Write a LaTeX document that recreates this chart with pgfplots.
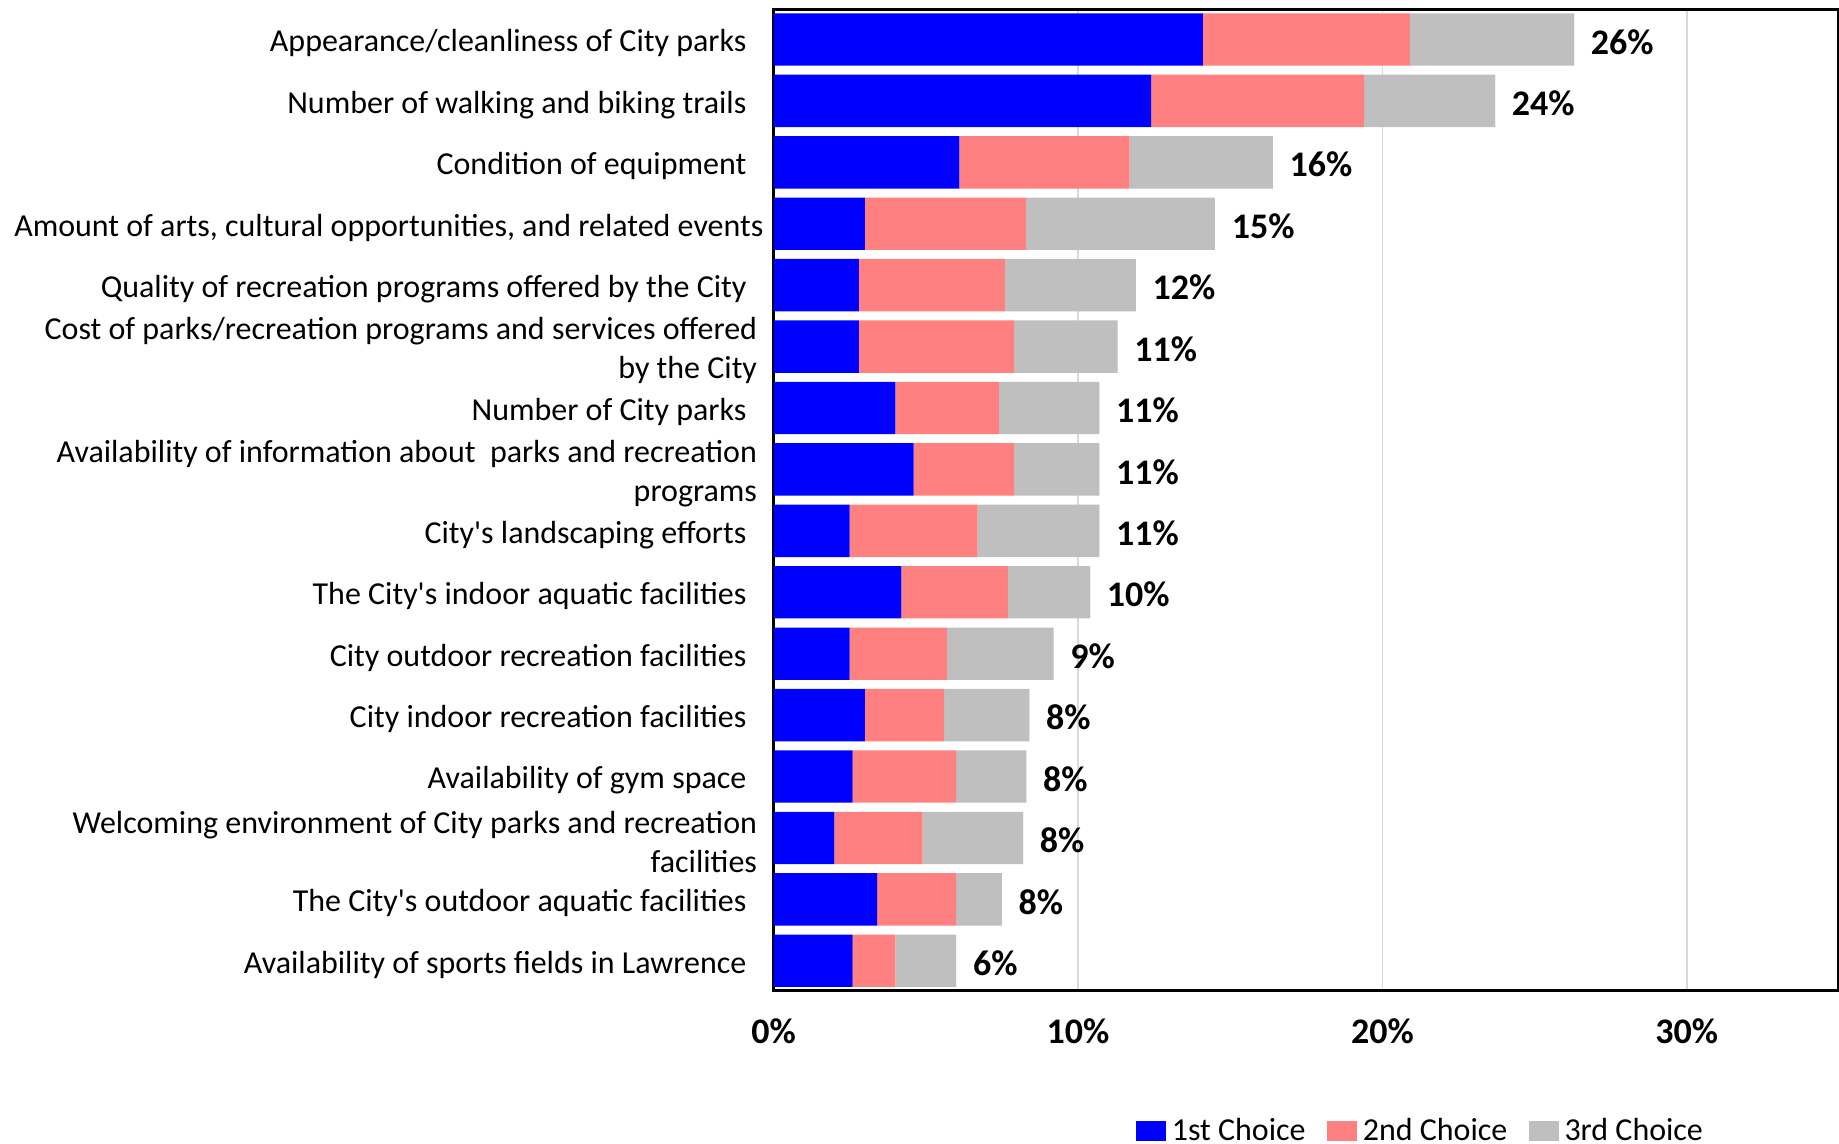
\documentclass[border=0pt]{standalone}
\usepackage{fontspec}
\setmainfont{Carlito}
\usepackage{pgfplots}
\pgfplotsset{compat=1.18}
\definecolor{c1}{HTML}{0000FF}
\definecolor{c2}{HTML}{FF8080}
\definecolor{c3}{HTML}{BFBFBF}
\definecolor{gridc}{HTML}{D9D9D9}
\newcommand{\sgl}{\hspace*{4.25pt}}
\newcommand{\dbl}{\hspace*{1.6pt}}
\begin{document}
\begin{tikzpicture}
\begin{axis}[
  name=ax,
  scale only axis, width=266.5pt, height=245.2pt,
  xbar stacked, bar width=13.1pt,
  xmin=0, xmax=35, ymin=-0.48, ymax=15.48, y dir=reverse,
  xtick={0,10,20,30}, xticklabels={0\%,10\%,20\%,30\%},
  xticklabel style={font=\bfseries\fontsize{9}{10}\selectfont, anchor=base, inner sep=0pt, yshift=-13.3pt},
  xmajorgrids, major grid style={gridc, line width=0.4pt},
  ytick={0,...,15},
  yticklabels={
    {Appearance/cleanliness of City parks\sgl},
    {Number of walking and biking trails\sgl},
    {Condition of equipment\sgl},
    {Amount of arts, cultural opportunities, and related events},
    {Quality of recreation programs offered by the City\sgl},
    {Cost of parks/recreation programs and services offered\dbl\\by the City\dbl},
    {Number of City parks\sgl},
    {Availability of information about \ parks and recreation\dbl\\programs\dbl},
    {City\textquotesingle s landscaping efforts\sgl},
    {The City\textquotesingle s indoor aquatic facilities\sgl},
    {City outdoor recreation facilities\sgl},
    {City indoor recreation facilities\sgl},
    {Availability of gym space\sgl},
    {Welcoming environment of City parks and recreation\dbl\\facilities\dbl},
    {The City\textquotesingle s outdoor aquatic facilities\sgl},
    {Availability of sports fields in Lawrence\sgl}},
  yticklabel style={font=\fontsize{8}{9.7}\selectfont, align=right, anchor=east, inner sep=0pt, xshift=-2.35pt, yshift=-1.0pt},
  major tick length=0pt,
  axis line style={line width=0.75pt, black},
  legend style={at={(0.609,-0.1447)}, anchor=center, draw=none, fill=none,
    legend columns=3, font=\fontsize{8}{9.6}\selectfont,
    nodes={inner xsep=1.5pt},
    /tikz/every even column/.append style={column sep=3.8pt}},
  legend cell align=left,
  legend image code/.code={\fill[#1] (0pt,-2.2pt) rectangle (7.5pt,2.8pt);},
]
\addplot[fill=c1, draw=none] coordinates {
(14.1,0) (12.4,1) (6.1,2) (3.0,3) (2.8,4) (2.8,5) (4.0,6) (4.6,7)
(2.5,8) (4.2,9) (2.5,10) (3.0,11) (2.6,12) (2.0,13) (3.4,14) (2.6,15)};
\addplot[fill=c2, draw=none] coordinates {
(6.8,0) (7.0,1) (5.6,2) (5.3,3) (4.8,4) (5.1,5) (3.4,6) (3.3,7)
(4.2,8) (3.5,9) (3.2,10) (2.6,11) (3.4,12) (2.9,13) (2.6,14) (1.4,15)};
\addplot[fill=c3, draw=none] coordinates {
(5.4,0) (4.3,1) (4.7,2) (6.2,3) (4.3,4) (3.4,5) (3.3,6) (2.8,7)
(4.0,8) (2.7,9) (3.5,10) (2.8,11) (2.3,12) (3.3,13) (1.5,14) (2.0,15)};
\addplot[fill=c3, draw=none, forget plot,
  nodes near coords={\makebox[0pt][l]{\hspace*{4.2pt}\pgfmathprintnumber[assume math mode=true,fixed,precision=0]{\pgfplotspointmeta}\%}},
  point meta=explicit,
  nodes near coords style={font=\bfseries\fontsize{9}{10}\selectfont, inner sep=0pt, text=black, yshift=-0.6pt}] coordinates {
(0.001,0) [26] (0.001,1) [24] (0.001,2) [16] (0.001,3) [15] (0.001,4) [12] (0.001,5) [11] (0.001,6) [11] (0.001,7) [11]
(0.001,8) [11] (0.001,9) [10] (0.001,10) [9] (0.001,11) [8] (0.001,12) [8] (0.001,13) [8] (0.001,14) [8] (0.001,15) [6]};
\legend{1st Choice, 2nd Choice, 3rd Choice}
\end{axis}
\pgfresetboundingbox
\useasboundingbox ([xshift=-193.5pt,yshift=-38.3pt]ax.south west) rectangle ([yshift=2.5pt]ax.north east);
\end{tikzpicture}
\end{document}
